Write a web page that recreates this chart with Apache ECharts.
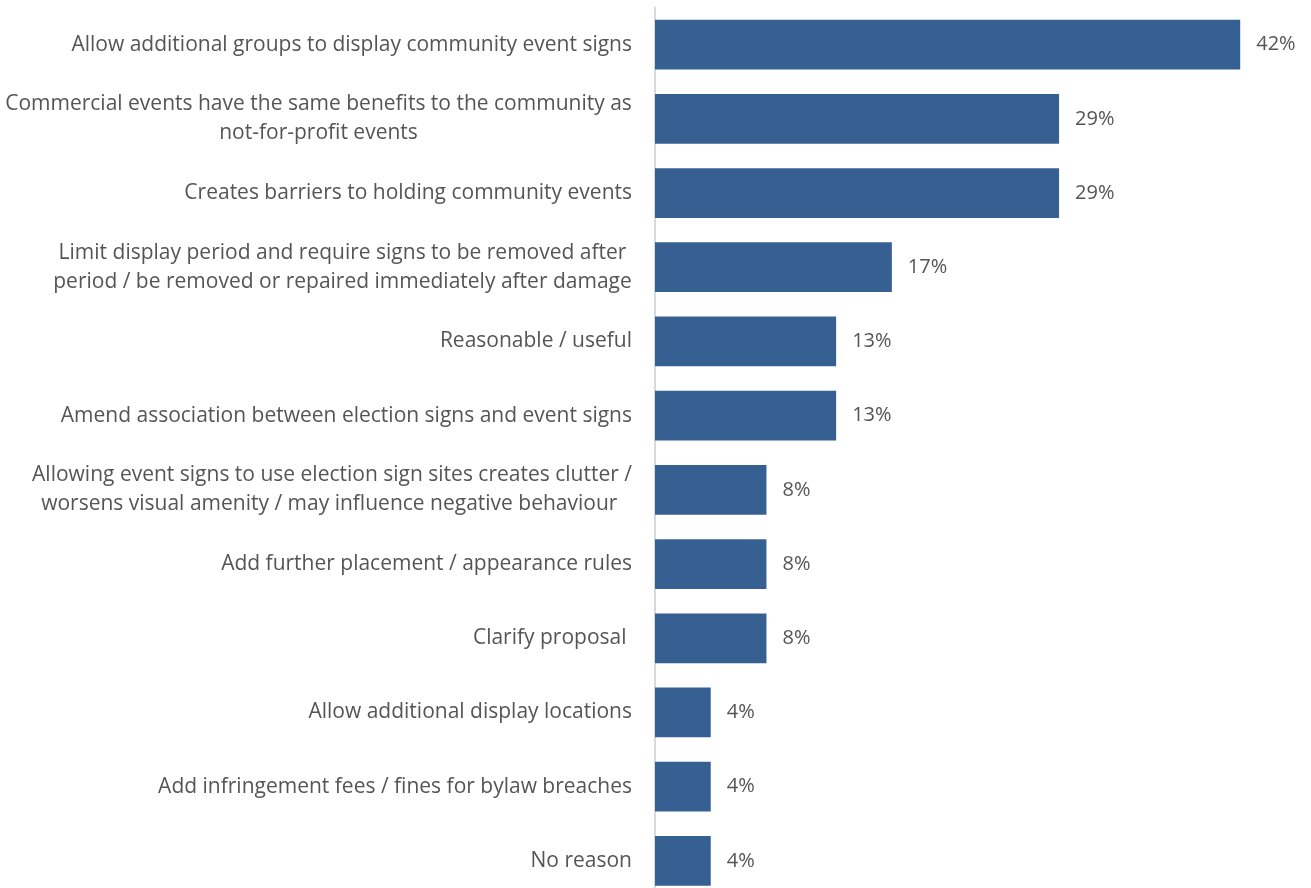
<!DOCTYPE html>
<html>
<head>
<meta charset="utf-8">
<script src="https://cdn.jsdelivr.net/npm/echarts@6/dist/echarts.min.js"></script>
<style>
  html, body { margin: 0; padding: 0; background: #ffffff; overflow: hidden; }
  /* the bottom category band runs slightly past the visible page edge */
  #chart { width: 1311px; height: 900px; }
</style>
</head>
<body>
<div id="chart"></div>
<script>
// Reasons given, top to bottom
const categories = [
  'Allow additional groups to display community event signs',
  'Commercial events have the same benefits to the community as\nnot-for-profit events',
  'Creates barriers to holding community events',
  'Limit display period and require signs to be removed after\nperiod / be removed or repaired immediately after damage',
  'Reasonable / useful',
  'Amend association between election signs and event signs',
  'Allowing event signs to use election sign sites creates clutter /\nworsens visual amenity / may influence negative behaviour ',
  'Add further placement / appearance rules',
  'Clarify proposal ',
  'Allow additional display locations',
  'Add infringement fees / fines for bylaw breaches',
  'No reason'
];
// Share of respondents (%)
const values = [42, 29, 29, 17, 13, 13, 8, 8, 8, 4, 4, 4];

const FONT_FAMILY = '"Open Sans", Lato, sans-serif';
const FONT_SIZE = 21;
const TEXT_COLOR = '#555555';

// Measure text so wrapped labels can be centred line-on-line
const measureCtx = document.createElement('canvas').getContext('2d');
measureCtx.font = FONT_SIZE + 'px ' + FONT_FAMILY;
function textWidth(s) { return Math.ceil(measureCtx.measureText(s).width); }

const rich = {};
function labelFormatter(value) {
  if (value.indexOf('\n') < 0) return value;
  const lines = value.split('\n');
  const w = Math.max.apply(null, lines.map(textWidth));
  const key = 'w' + w;
  rich[key] = { width: w, align: 'center', fontSize: FONT_SIZE, fontFamily: FONT_FAMILY, color: TEXT_COLOR, lineHeight: 29 };
  return lines.map(l => '{' + key + '|' + l + '}').join('\n');
}
// pre-build rich styles
categories.forEach(labelFormatter);

const chart = echarts.init(document.getElementById('chart'), null, { renderer: 'canvas' });
chart.setOption({
  animation: false,
  backgroundColor: '#ffffff',
  grid: { left: 655, right: 29, top: 7.5, bottom: 2, containLabel: false },
  xAxis: {
    type: 'value', min: 0, max: 45,
    show: false
  },
  yAxis: {
    type: 'category',
    data: categories,
    inverse: true,
    axisLine: { show: true, lineStyle: { color: '#d9d9d9', width: 2 } },
    axisTick: { show: false },
    splitLine: { show: false },
    axisLabel: {
      margin: 23,
      fontSize: FONT_SIZE,
      fontFamily: FONT_FAMILY,
      color: TEXT_COLOR,
      lineHeight: 29,
      formatter: labelFormatter,
      rich: rich
    }
  },
  series: [{
    type: 'bar',
    data: values,
    barCategoryGap: '33%',
    itemStyle: { color: '#376092' },
    label: {
      show: true,
      position: 'right',
      distance: 16,
      formatter: '{c}%',
      fontSize: 20,
      fontFamily: FONT_FAMILY,
      color: TEXT_COLOR
    }
  }]
});
</script>
</body>
</html>
